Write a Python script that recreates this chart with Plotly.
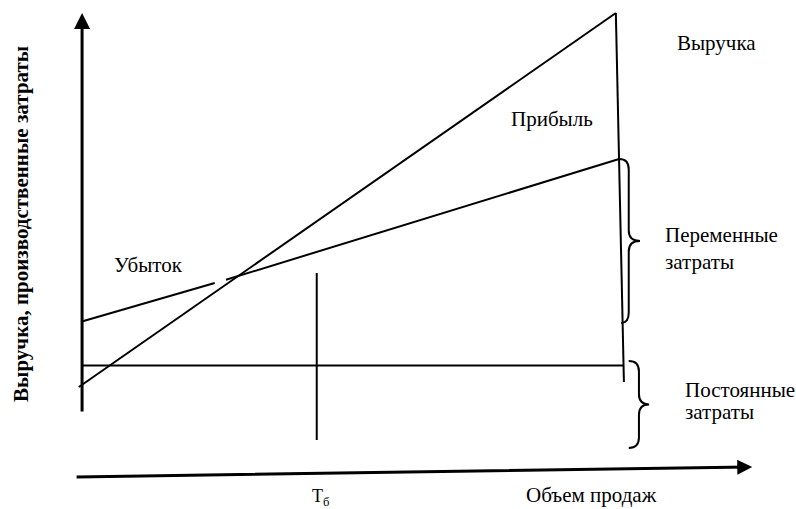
import plotly.graph_objects as go

# ---- data (schematic units: volume 0..100, money 0..100) ----
revenue_x = [-0.4, 99.6]
revenue_y = [6.5, 100.0]

total_cost_x = [0.0, 24.9, None, 27.0, 100.2]
total_cost_y = [22.8, 32.5, None, 33.3, 63.5]

fixed_cost_x = [0.0, 101.1]
fixed_cost_y = [11.9, 11.9]

end_volume_x = [99.6, 101.1]
end_volume_y = [100.0, 7.75]

breakeven_x = [43.9, 43.9]
breakeven_y = [35.0, -6.75]

# axes (arrows) tail -> tip
y_axis_tail = (0.2, 0.0)
y_axis_tip = (0.2, 100.0)
x_axis_tail = (-1.1, -16.0)
x_axis_tip = (125.0, -13.5)

# braces: (x_left_top, x_left_bottom, x_stem, x_tip, y_top, y_bottom)
brace_variable = (100.2, 100.6, 102.0, 104.1, 63.5, 22.5)
brace_fixed = (102.0, 102.0, 103.9, 105.8, 13.0, -8.75)

labels = {
    "revenue": "Выручка",
    "profit": "Прибыль",
    "variable1": "Переменные",
    "variable2": "затраты",
    "fixed1": "Постоянные",
    "fixed2": "затраты",
    "loss": "Убыток",
    "volume": "Объем продаж",
    "ytitle": "Выручка, производственные затраты",
}

W, H = 796, 509
FONT = "Liberation Serif, Times New Roman, serif"

fig = go.Figure()

def line(xs, ys, width=2):
    fig.add_trace(go.Scatter(x=xs, y=ys, mode="lines",
                             line=dict(color="black", width=width),
                             hoverinfo="skip", showlegend=False,
                             connectgaps=False))

line(revenue_x, revenue_y)
line(total_cost_x, total_cost_y)
line(fixed_cost_x, fixed_cost_y)
line(end_volume_x, end_volume_y)
line(breakeven_x, breakeven_y)

def brace_path(b, r=2.6):
    xl_t, xl_b, xs, xt, yt, yb = b
    ym = (yt + yb) / 2
    return (f"M{xl_t},{yt} Q{xs},{yt} {xs},{yt - r} "
            f"L{xs},{ym + r} Q{xs},{ym} {xt},{ym} "
            f"Q{xs},{ym} {xs},{ym - r} "
            f"L{xs},{yb + r} Q{xs},{yb} {xl_b},{yb}")

for b in (brace_variable, brace_fixed):
    fig.add_shape(type="path", path=brace_path(b), xref="x", yref="y",
                  line=dict(color="black", width=2))

# axis arrows
for tail, tip, size in ((y_axis_tail, y_axis_tip, 1.07), (x_axis_tail, x_axis_tip, 1.0)):
    fig.add_annotation(x=tip[0], y=tip[1], ax=tail[0], ay=tail[1],
                       xref="x", yref="y", axref="x", ayref="y",
                       showarrow=True, arrowhead=2, arrowsize=size,
                       arrowwidth=3, arrowcolor="black", text="")

def px_text(text, x, y, size=21, bold=False, xanchor="left", angle=0):
    fig.add_annotation(x=x / W, y=1 - y / H, xref="paper", yref="paper",
                       text=f"<b>{text}</b>" if bold else text,
                       showarrow=False, xanchor=xanchor, yanchor="middle",
                       textangle=angle,
                       font=dict(family=FONT, size=size, color="black"))

px_text(labels["revenue"], 675, 43)
px_text(labels["profit"], 509, 119)
px_text(labels["variable1"], 663, 235)
px_text(labels["variable2"], 663, 262)
px_text(labels["fixed1"], 683, 390)
px_text(labels["fixed2"], 683, 412)
px_text(labels["loss"], 112, 265)
px_text(labels["volume"], 524, 495)
px_text("Т<sub>б</sub>", 310, 497, size=18)
px_text(labels["ytitle"], 21, 224, size=21, bold=True, xanchor="center", angle=-90)

x_scale = 5.37
y_scale = 4.0
x0_px, y0_px = 81, 413
fig.update_layout(
    width=W, height=H,
    margin=dict(l=0, r=0, t=0, b=0),
    paper_bgcolor="white", plot_bgcolor="white",
    xaxis=dict(range=[-x0_px / x_scale, (W - x0_px) / x_scale], visible=False, fixedrange=True),
    yaxis=dict(range=[(y0_px - H) / y_scale, y0_px / y_scale], visible=False, fixedrange=True),
    showlegend=False,
)

fig.write_html("out.html", config={"displayModeBar": False},
               post_script="document.body.style.margin='0';document.body.style.overflow='hidden';")
